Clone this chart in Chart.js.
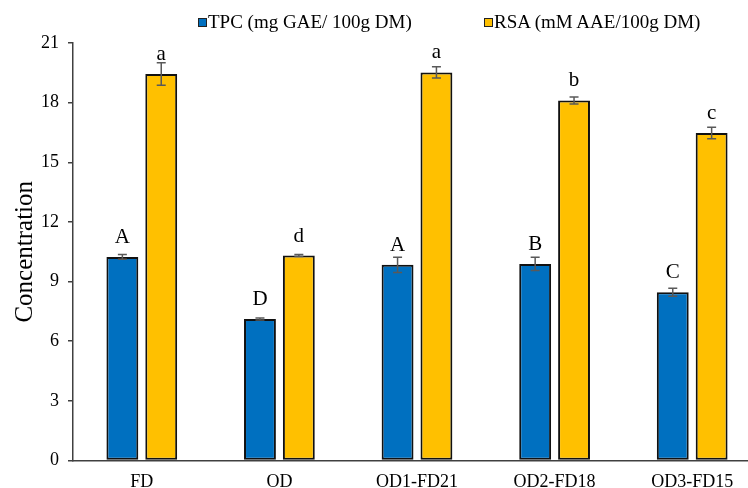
<!DOCTYPE html>
<html>
<head>
<meta charset="utf-8">
<script src="https://cdn.jsdelivr.net/npm/chart.js@4"></script>
<style>
  html, body { margin: 0; padding: 0; background: #fff; overflow: hidden; }
  #wrap { position: relative; width: 748px; height: 488px; overflow: hidden; }
  #cv { position: absolute; left: 0; top: 0; }
  .leyenda { position: absolute; top: 11px; font: 19px 'Liberation Serif', 'Times New Roman', serif; color: #000; white-space: nowrap; line-height: 22px; }
  .leyenda i { display: inline-block; width: 7px; height: 7px; border: 1px solid #222; margin-right: 1px; vertical-align: 1px; }
</style>
</head>
<body>
<div id="wrap">
  <canvas id="cv" width="762" height="488"></canvas>
  <div class="leyenda" style="left:198px"><i style="background:#0070C0"></i>TPC (mg GAE/ 100g DM)</div>
  <div class="leyenda" style="left:484px"><i style="background:#FFC000"></i>RSA (mM AAE/100g DM)</div>
</div>
<script>
let muestras = ["FD", "OD", "OD1-FD21", "OD2-FD18", "OD3-FD15"];

let tpc = [10.24, 7.12, 9.84, 9.89, 8.46];
let tpcError = [0.12, 0.05, 0.38, 0.33, 0.20];
let tpcLetras = ["A", "D", "A", "B", "C"];

let rsa = [19.44, 10.31, 19.52, 18.11, 16.47];
let rsaError = [0.57, 0.05, 0.28, 0.18, 0.29];
let rsaLetras = ["a", "d", "a", "b", "c"];

let ticksY = [0, 3, 6, 9, 12, 15, 18, 21];

const fuente = "'Liberation Serif', 'Times New Roman', serif";

// barras de error y letras de significancia
const extras = {
  id: 'extras',
  afterDatasetsDraw(chart) {
    const ctx = chart.ctx;
    const y = chart.scales.y;
    const errores = [tpcError, rsaError];
    const letras = [tpcLetras, rsaLetras];
    chart.data.datasets.forEach((ds, d) => {
      const meta = chart.getDatasetMeta(d);
      meta.data.forEach((barra, i) => {
        const v = ds.data[i];
        const e = errores[d][i];
        const arriba = y.getPixelForValue(v + e);
        const abajo = y.getPixelForValue(v - e);
        ctx.save();
        ctx.strokeStyle = '#595959';
        ctx.lineWidth = 1.5;
        ctx.beginPath();
        ctx.moveTo(barra.x, arriba);
        ctx.lineTo(barra.x, abajo);
        ctx.moveTo(barra.x - 4.5, arriba);
        ctx.lineTo(barra.x + 4.5, arriba);
        ctx.moveTo(barra.x - 4.5, abajo);
        ctx.lineTo(barra.x + 4.5, abajo);
        ctx.stroke();
        ctx.fillStyle = '#000';
        ctx.font = '21px ' + fuente;
        ctx.textAlign = 'center';
        ctx.textBaseline = 'alphabetic';
        ctx.fillText(letras[d][i], barra.x, barra.y - 14);
        ctx.restore();
      });
    });
  }
};

const ctx = document.getElementById('cv').getContext('2d');
let chart = new Chart(ctx, {
  type: 'bar',
  data: {
    labels: muestras,
    datasets: [{
      label: 'TPC (mg GAE/ 100g DM)',
      data: tpc,
      backgroundColor: '#0070C0',
      borderColor: '#111',
      borderWidth: 2,
      borderSkipped: false,
      categoryPercentage: 0.565,
      barPercentage: 0.82
    }, {
      label: 'RSA (mM AAE/100g DM)',
      data: rsa,
      backgroundColor: '#FFC000',
      borderColor: '#111',
      borderWidth: 2,
      borderSkipped: false,
      categoryPercentage: 0.565,
      barPercentage: 0.82
    }]
  },
  options: {
    responsive: false,
    animation: false,
    layout: { padding: { top: 43, right: 1, bottom: 0, left: 0 } },
    plugins: {
      legend: { display: false },
      tooltip: { enabled: false }
    },
    scales: {
      x: {
        offset: true,
        grid: { display: false, drawTicks: false },
        border: { display: true, color: '#404040', width: 1.5 },
        ticks: { color: '#000', font: { family: fuente, size: 18 }, padding: 11, maxRotation: 0 },
        afterFit(scale) { scale.height = 27.5; }
      },
      y: {
        min: 0,
        max: 21,
        afterBuildTicks(scale) { scale.ticks = ticksY.map(v => ({ value: v })); },
        grid: { drawOnChartArea: false, drawTicks: true, tickLength: 5, color: '#404040', lineWidth: 1.5 },
        border: { display: true, color: '#404040', width: 1.5 },
        ticks: { color: '#000', font: { family: fuente, size: 18 }, padding: 9 },
        title: {
          display: true,
          text: 'Concentration',
          color: '#000',
          font: { family: fuente, size: 25 },
          padding: { top: 10, bottom: 0 }
        },
        afterFit(scale) { scale.width = 73; }
      }
    }
  },
  plugins: [extras]
});
</script>
</body>
</html>
